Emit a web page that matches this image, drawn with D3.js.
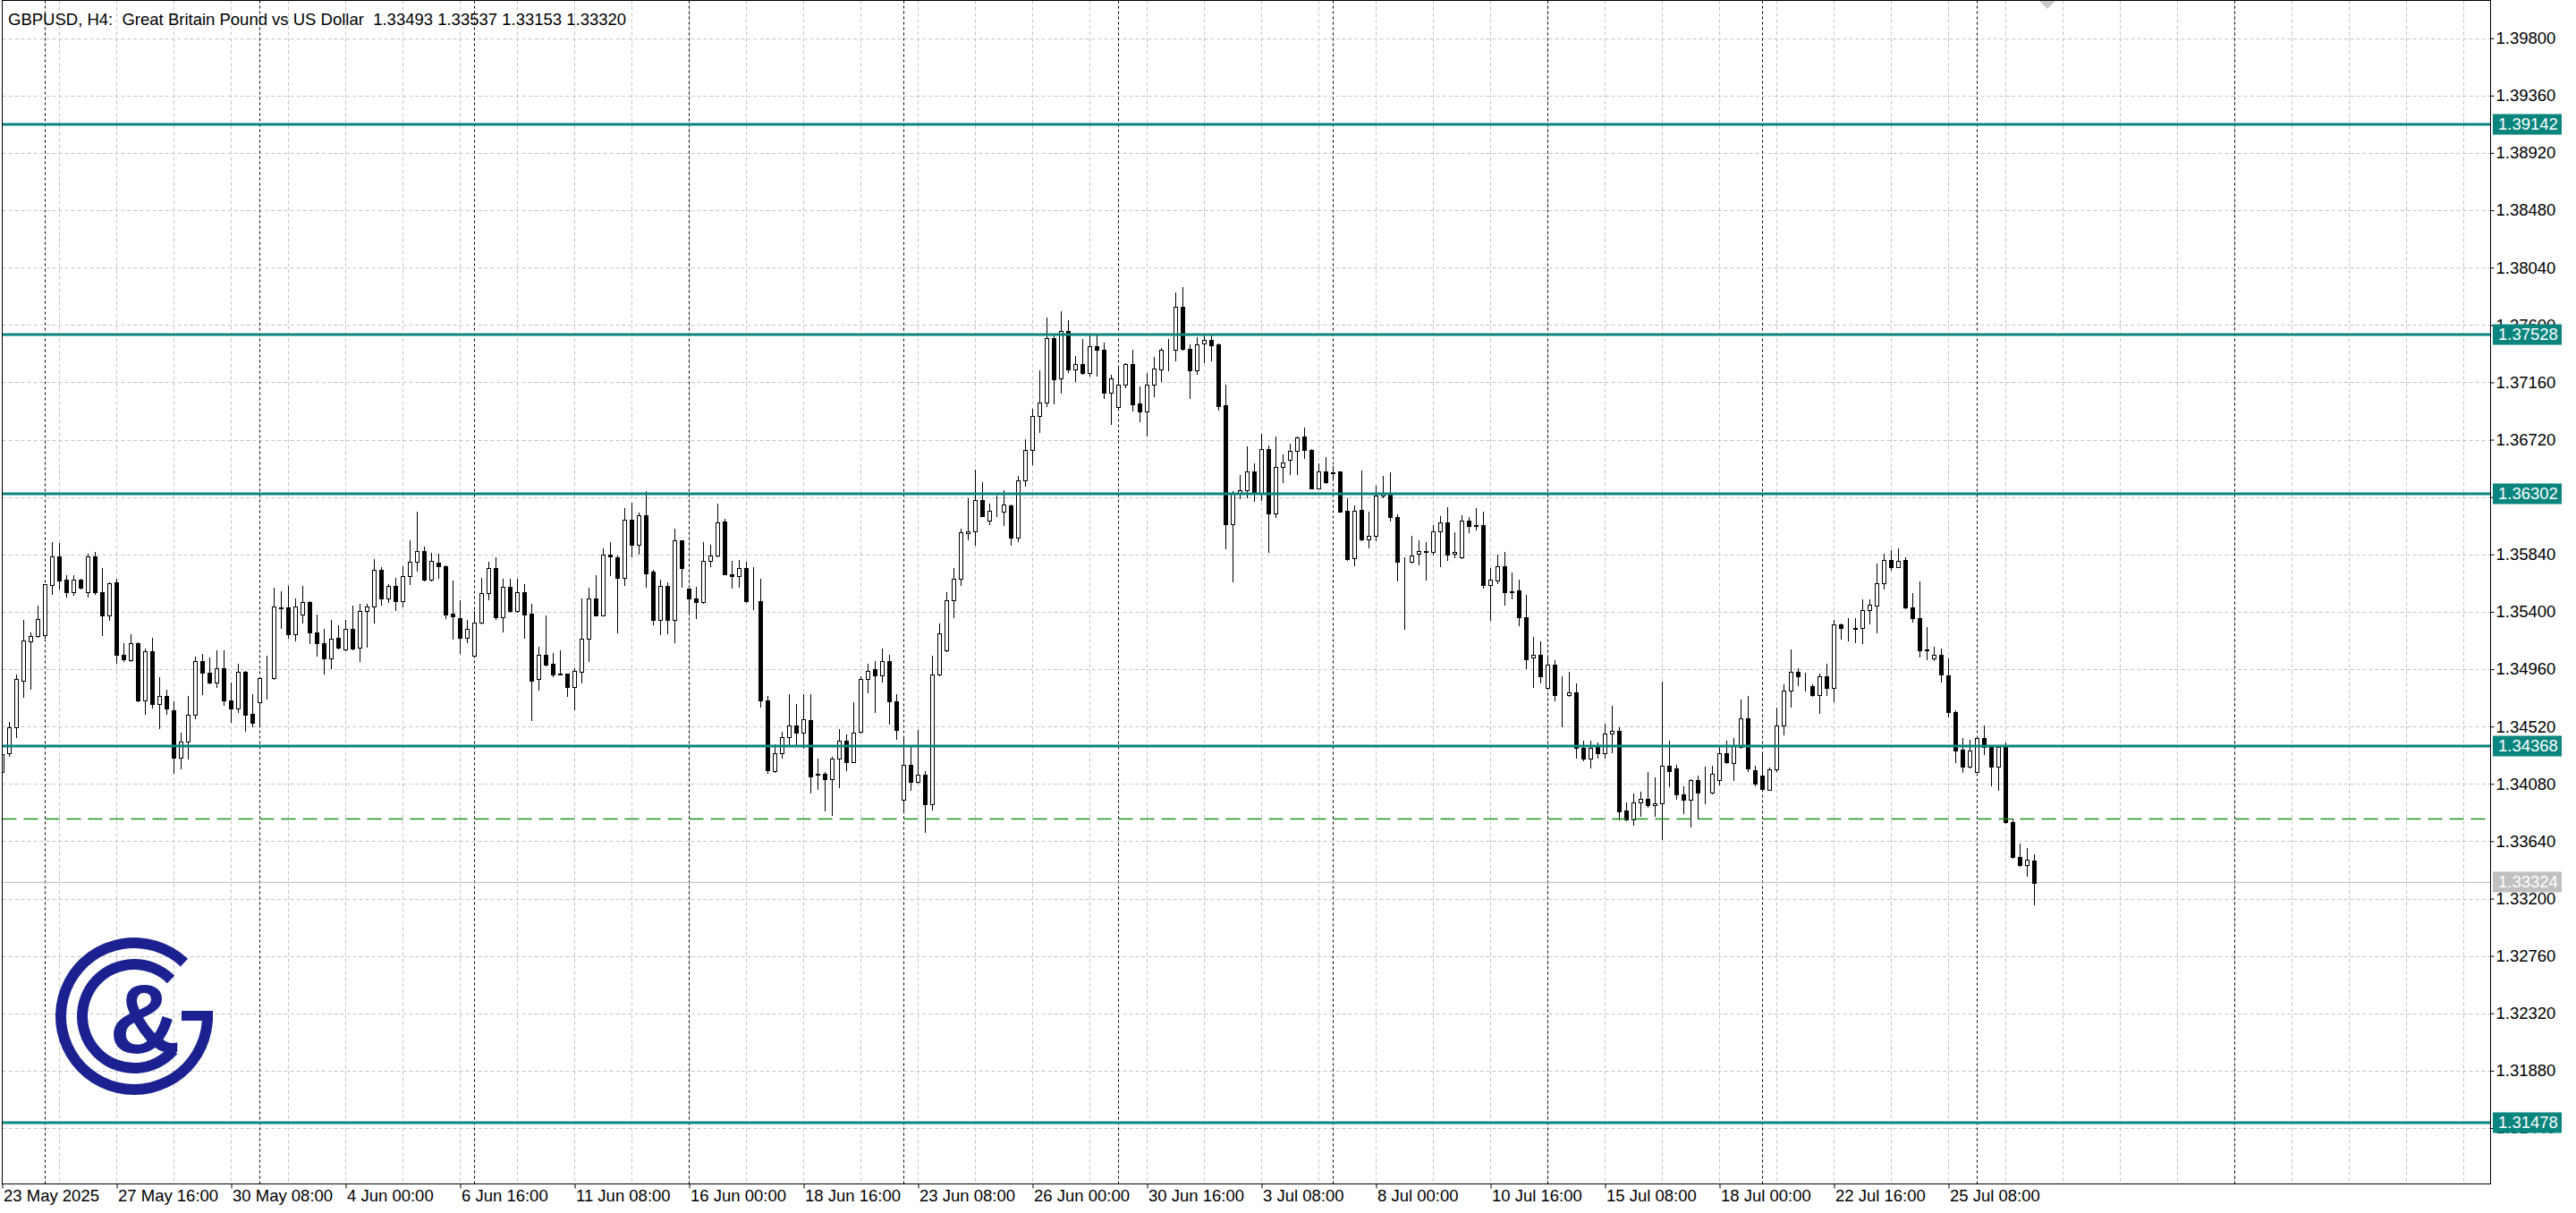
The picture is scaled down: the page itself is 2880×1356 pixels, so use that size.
<!DOCTYPE html>
<html><head><meta charset="utf-8">
<script src="https://cdn.jsdelivr.net/npm/d3@7"></script>
<style>html,body{margin:0;padding:0;background:#fff;} svg{display:block;} text{font-family:"Liberation Sans",Arial,sans-serif;}</style>
</head><body><svg id="c" width="2880" height="1356"></svg>
<script>
const title = "GBPUSD, H4:  Great Britain Pound vs US Dollar  1.33493 1.33537 1.33153 1.33320";
const open = [1.34170,1.34318,1.34517,1.34874,1.35176,1.35217,1.35222,1.35604,1.35823,1.35645,1.35553,1.35645,1.35553,1.35823,1.35553,1.35370,1.35626,1.35073,1.35027,1.35158,1.34723,1.35096,1.34696,1.34753,1.34645,1.34284,1.34403,1.34609,1.35020,1.34931,1.34856,1.34965,1.34718,1.34657,1.34940,1.34616,1.34703,1.34890,1.34890,1.35432,1.35432,1.35226,1.35377,1.35473,1.35240,1.35158,1.35043,1.35199,1.35112,1.35267,1.35126,1.35405,1.35439,1.35720,1.35501,1.35599,1.35480,1.35672,1.35782,1.35866,1.35645,1.35777,1.35747,1.35386,1.35354,1.35199,1.35061,1.35318,1.35546,1.35734,1.35359,1.35592,1.35404,1.35551,1.35386,1.34883,1.35073,1.35000,1.34924,1.34924,1.34826,1.34943,1.35194,1.35501,1.35375,1.35839,1.35816,1.35663,1.36104,1.35917,1.36139,1.35709,1.35340,1.35597,1.35340,1.35946,1.35576,1.35501,1.35473,1.35793,1.35832,1.36095,1.35690,1.35672,1.35734,1.35485,1.35480,1.34718,1.34181,1.34314,1.34437,1.34531,1.34471,1.34570,1.34158,1.34158,1.34115,1.34277,1.34409,1.34249,1.34479,1.34885,1.34961,1.34913,1.35025,1.34711,1.33961,1.34227,1.34095,1.34151,1.33924,1.34921,1.35103,1.35487,1.35650,1.36000,1.36014,1.36257,1.36098,1.36173,1.36168,1.36215,1.35969,1.36406,1.36641,1.36902,1.37008,1.37498,1.37190,1.37551,1.37257,1.37302,1.37232,1.37434,1.37411,1.37078,1.36972,1.37140,1.37299,1.37000,1.36938,1.37145,1.37260,1.37411,1.37411,1.37736,1.37414,1.37252,1.37456,1.37484,1.37448,1.36986,1.36075,1.36313,1.36331,1.36480,1.36308,1.36647,1.36153,1.36509,1.36567,1.36633,1.36743,1.36640,1.36349,1.36475,1.36468,1.36475,1.36175,1.35810,1.36182,1.35954,1.35981,1.36290,1.36315,1.36125,1.35787,1.35787,1.35844,1.35862,1.35858,1.36015,1.36084,1.35844,1.35816,1.36098,1.36061,1.36063,1.35606,1.35638,1.35748,1.35560,1.35565,1.35359,1.35050,1.35069,1.34815,1.34993,1.34764,1.34760,1.34783,1.34357,1.34273,1.34364,1.34318,1.34467,1.34490,1.33877,1.33808,1.33936,1.33964,1.33918,1.33929,1.34220,1.34199,1.33998,1.33957,1.34112,1.34014,1.34014,1.34108,1.34318,1.34238,1.34364,1.34581,1.34188,1.34146,1.34037,1.34192,1.34528,1.34798,1.34942,1.34837,1.34832,1.34764,1.34906,1.34814,1.35301,1.35274,1.35274,1.35274,1.35416,1.35450,1.35617,1.35800,1.35740,1.35798,1.35434,1.35354,1.35114,1.35045,1.35073,1.34913,1.34631,1.34341,1.34210,1.34169,1.34432,1.34364,1.34210,1.34368,1.33785,1.33517,1.33456,1.33493];
const high = [1.34325,1.34558,1.34917,1.35336,1.35244,1.35450,1.35615,1.35935,1.35926,1.35679,1.35684,1.35652,1.35848,1.35862,1.35736,1.35626,1.35656,1.35158,1.35226,1.35169,1.35119,1.35199,1.34897,1.34803,1.34712,1.34472,1.34753,1.35055,1.35078,1.35050,1.35107,1.35107,1.34860,1.35004,1.34947,1.34769,1.34901,1.35066,1.35583,1.35560,1.35599,1.35503,1.35599,1.35480,1.35382,1.35267,1.35336,1.35297,1.35336,1.35450,1.35462,1.35462,1.35805,1.35741,1.35610,1.35661,1.35748,1.35947,1.36166,1.35901,1.35850,1.35844,1.35754,1.35640,1.35489,1.35336,1.35404,1.35661,1.35782,1.35816,1.35652,1.35656,1.35652,1.35610,1.35462,1.35135,1.35370,1.35084,1.35103,1.34929,1.34965,1.35503,1.35587,1.35679,1.35885,1.35935,1.35834,1.36193,1.36239,1.36164,1.36326,1.35720,1.35645,1.35629,1.36038,1.35949,1.35578,1.35592,1.35935,1.35912,1.36232,1.36113,1.35793,1.35798,1.35786,1.35741,1.35652,1.34753,1.34387,1.34478,1.34769,1.34695,1.34769,1.34769,1.34272,1.34170,1.34291,1.34501,1.34459,1.34703,1.34907,1.35003,1.35019,1.35117,1.35067,1.34767,1.34431,1.34367,1.34493,1.34179,1.35061,1.35313,1.35552,1.35734,1.36039,1.36271,1.36490,1.36392,1.36229,1.36291,1.36336,1.36224,1.36439,1.36725,1.36958,1.37252,1.37658,1.37532,1.37708,1.37635,1.37364,1.37495,1.37518,1.37526,1.37467,1.37215,1.37285,1.37308,1.37411,1.37126,1.37232,1.37358,1.37425,1.37495,1.37846,1.37890,1.37448,1.37509,1.37518,1.37532,1.37456,1.37140,1.36327,1.36450,1.36669,1.36537,1.36765,1.36679,1.36743,1.36605,1.36690,1.36747,1.36811,1.36647,1.36537,1.36587,1.36518,1.36480,1.36269,1.36217,1.36484,1.36166,1.36370,1.36441,1.36468,1.36148,1.35821,1.35981,1.35947,1.35935,1.36068,1.36137,1.36201,1.36011,1.36141,1.36130,1.36194,1.36166,1.35736,1.35839,1.35858,1.35702,1.35645,1.35530,1.35206,1.35176,1.35050,1.35027,1.34902,1.34940,1.34849,1.34414,1.34410,1.34398,1.34543,1.34680,1.34517,1.33936,1.34003,1.34017,1.34170,1.34128,1.34862,1.34409,1.34226,1.34060,1.34119,1.34146,1.34210,1.34220,1.34375,1.34409,1.34432,1.34730,1.34752,1.34220,1.34325,1.34204,1.34666,1.34844,1.35112,1.34970,1.34931,1.34844,1.34929,1.34999,1.35336,1.35313,1.35354,1.35352,1.35496,1.35496,1.35770,1.35846,1.35873,1.35885,1.35820,1.35546,1.35633,1.35283,1.35130,1.35118,1.35043,1.34643,1.34432,1.34421,1.34432,1.34528,1.34375,1.34371,1.34398,1.33815,1.33620,1.33586,1.33537];
const low = [1.34160,1.34295,1.34439,1.34746,1.34810,1.35210,1.35199,1.35537,1.35576,1.35519,1.35530,1.35576,1.35519,1.35537,1.35222,1.35341,1.35011,1.35023,1.35023,1.34714,1.34620,1.34668,1.34506,1.34616,1.34165,1.34197,1.34273,1.34586,1.34771,1.34851,1.34821,1.34689,1.34558,1.34634,1.34490,1.34524,1.34536,1.34737,1.34885,1.35279,1.35199,1.35183,1.35320,1.35160,1.35062,1.34924,1.34970,1.35119,1.35107,1.35114,1.35020,1.35130,1.35320,1.35457,1.35473,1.35416,1.35439,1.35610,1.35718,1.35640,1.35640,1.35663,1.35354,1.35192,1.35084,1.35164,1.35055,1.35313,1.35496,1.35347,1.35251,1.35400,1.35400,1.35203,1.34570,1.34805,1.34988,1.34908,1.34920,1.34757,1.34650,1.34856,1.35023,1.35370,1.35370,1.35679,1.35240,1.35606,1.35828,1.35848,1.35594,1.35306,1.35226,1.35237,1.35169,1.35592,1.35388,1.35354,1.35469,1.35747,1.35828,1.35686,1.35583,1.35594,1.35473,1.35423,1.34673,1.34163,1.34170,1.34279,1.34387,1.34387,1.34359,1.34016,1.34044,1.33879,1.33840,1.34053,1.34185,1.34246,1.34473,1.34781,1.34633,1.34862,1.34543,1.34423,1.33877,1.34036,1.34092,1.33714,1.33885,1.34913,1.35100,1.35361,1.35605,1.35958,1.35913,1.36131,1.36070,1.36131,1.36067,1.35916,1.35944,1.36369,1.36529,1.36776,1.36977,1.37000,1.37078,1.37238,1.37173,1.37224,1.37210,1.37210,1.37036,1.36837,1.36966,1.37120,1.36944,1.36860,1.36748,1.37050,1.37173,1.37252,1.37330,1.37411,1.37042,1.37224,1.37316,1.37330,1.36949,1.35888,1.35636,1.36274,1.36278,1.36251,1.36258,1.35862,1.36125,1.36395,1.36457,1.36457,1.36578,1.36345,1.36345,1.36388,1.36416,1.36166,1.35800,1.35759,1.35949,1.35896,1.35949,1.36281,1.36102,1.35638,1.35267,1.35777,1.35766,1.35649,1.35839,1.35748,1.35800,1.35816,1.35810,1.36011,1.36034,1.35583,1.35336,1.35617,1.35457,1.35501,1.35297,1.34970,1.34822,1.34856,1.34810,1.34723,1.34524,1.34753,1.34280,1.34257,1.34204,1.34280,1.34284,1.34325,1.33808,1.33799,1.33763,1.33834,1.33902,1.33833,1.33659,1.34060,1.33963,1.33854,1.33751,1.33815,1.33934,1.34005,1.34073,1.34238,1.34112,1.34359,1.34181,1.34066,1.34037,1.34032,1.34181,1.34462,1.34672,1.34839,1.34798,1.34752,1.34627,1.34764,1.34714,1.35194,1.35180,1.35164,1.35160,1.35308,1.35240,1.35580,1.35724,1.35740,1.35427,1.35324,1.35054,1.35038,1.35031,1.34867,1.34597,1.34245,1.34169,1.34204,1.34169,1.34306,1.34071,1.34037,1.33780,1.33513,1.33453,1.33373,1.33153];
const close = [1.34311,1.34517,1.34883,1.35180,1.35217,1.35343,1.35610,1.35823,1.35642,1.35553,1.35645,1.35583,1.35823,1.35553,1.35370,1.35617,1.35073,1.35034,1.35158,1.34723,1.35096,1.34696,1.34753,1.34657,1.34284,1.34403,1.34609,1.35020,1.34931,1.34856,1.34965,1.34718,1.34657,1.34940,1.34609,1.34547,1.34890,1.34892,1.35439,1.35430,1.35226,1.35439,1.35473,1.35240,1.35158,1.35043,1.35192,1.35123,1.35267,1.35119,1.35405,1.35439,1.35720,1.35501,1.35599,1.35480,1.35672,1.35782,1.35864,1.35645,1.35789,1.35747,1.35382,1.35363,1.35199,1.35267,1.35318,1.35542,1.35734,1.35359,1.35592,1.35404,1.35551,1.35382,1.34874,1.35073,1.34993,1.34920,1.34922,1.34826,1.34947,1.35194,1.35501,1.35375,1.35839,1.35823,1.35663,1.36104,1.35917,1.36139,1.35697,1.35340,1.35597,1.35340,1.35946,1.35736,1.35501,1.35473,1.35793,1.35832,1.36086,1.35690,1.35672,1.35734,1.35480,1.35483,1.34718,1.34188,1.34314,1.34437,1.34531,1.34471,1.34574,1.34135,1.34150,1.34117,1.34277,1.34414,1.34249,1.34470,1.34885,1.34949,1.34913,1.35025,1.34711,1.34493,1.34227,1.34095,1.34151,1.33924,1.34921,1.35235,1.35487,1.35650,1.36011,1.36014,1.36257,1.36137,1.36173,1.36175,1.36224,1.35969,1.36406,1.36641,1.36902,1.37008,1.37498,1.37182,1.37551,1.37257,1.37302,1.37232,1.37434,1.37411,1.37078,1.37187,1.37140,1.37299,1.36994,1.36938,1.37140,1.37266,1.37411,1.37413,1.37736,1.37414,1.37252,1.37448,1.37484,1.37442,1.36980,1.36075,1.36305,1.36331,1.36475,1.36308,1.36647,1.36153,1.36509,1.36548,1.36633,1.36736,1.36640,1.36349,1.36475,1.36393,1.36466,1.36171,1.35805,1.36175,1.35954,1.35981,1.36290,1.36315,1.36125,1.35782,1.35782,1.35835,1.35867,1.35864,1.36015,1.36084,1.35839,1.35858,1.36098,1.36057,1.36063,1.35604,1.35645,1.35748,1.35553,1.35553,1.35359,1.35039,1.35069,1.34906,1.34993,1.34760,1.34762,1.34783,1.34357,1.34273,1.34357,1.34318,1.34467,1.34485,1.33872,1.33808,1.33936,1.33964,1.33914,1.33929,1.34220,1.34181,1.33998,1.33957,1.34112,1.34014,1.34016,1.34158,1.34318,1.34245,1.34375,1.34581,1.34197,1.34085,1.34043,1.34192,1.34528,1.34798,1.34942,1.34906,1.34835,1.34764,1.34906,1.34814,1.35301,1.35274,1.35276,1.35272,1.35416,1.35457,1.35617,1.35800,1.35740,1.35793,1.35434,1.35354,1.35107,1.35102,1.35073,1.34917,1.34634,1.34334,1.34210,1.34334,1.34430,1.34364,1.34210,1.34364,1.33785,1.33517,1.33456,1.33499,1.33320];
const timeLabels = ["23 May 2025","27 May 16:00","30 May 08:00","4 Jun 00:00","6 Jun 16:00","11 Jun 08:00","16 Jun 00:00","18 Jun 16:00","23 Jun 08:00","26 Jun 00:00","30 Jun 16:00","3 Jul 08:00","8 Jul 00:00","10 Jul 16:00","15 Jul 08:00","18 Jul 00:00","22 Jul 16:00","25 Jul 08:00"];
const timeLabelBars = [0,16,32,48,64,80,96,112,128,144,160,176,192,208,224,240,256,272];
const weekStartBars = [6,36,66,96,126,156,186,216,246,276,312];
const gridBars = [0,8,16,24,32,40,48,56,64,72,80,88,96,104,112,120,128,136,144,152,160,168,176,184,192,200,208,216,224,232,240,248,256,264,272,280,288,296,304,312,320,328,336,344];
const yTicks = [1.39800,1.39360,1.38920,1.38480,1.38040,1.37600,1.37160,1.36720,1.36280,1.35840,1.35400,1.34960,1.34520,1.34080,1.33640,1.33200,1.32760,1.32320,1.31880,1.31440];
const levels = [1.39142,1.37528,1.36302,1.34368,1.31478];
const trendLevel = 1.33814;
const bidPrice = 1.33324;

const L = 2.5, R = 2784.5, T = 0.5, B = 1323.5;
const svg = d3.select('#c');
const x = d3.scaleLinear().domain([0, 347.75]).range([L, R]);
const y = d3.scaleLinear().domain([1.3144, 1.398]).range([1261, 42.7]);
const py = v => Math.round(y(v)) + 0.5;
const fmt = d3.format('.5f');
const FS = '18.5px';

svg.append('rect').attr('width', 2880).attr('height', 1356).attr('fill', '#fff');
svg.append('defs').append('clipPath').attr('id', 'plot').append('rect')
  .attr('x', L).attr('y', T).attr('width', R - L).attr('height', B - T);
const plot = svg.append('g').attr('clip-path', 'url(#plot)');

// grid
plot.append('g').selectAll('line').data(yTicks).join('line')
  .attr('x1', L).attr('x2', R).attr('y1', d => py(d)).attr('y2', d => py(d))
  .attr('stroke', '#c4c4c4').attr('stroke-width', 1).attr('stroke-dasharray', '4,3');
plot.append('g').selectAll('line').data(gridBars).join('line')
  .attr('x1', d => x(d)).attr('x2', d => x(d)).attr('y1', T).attr('y2', B)
  .attr('stroke', '#c4c4c4').attr('stroke-width', 1).attr('stroke-dasharray', '4,3');
// week separators
plot.append('g').selectAll('line').data(weekStartBars).join('line')
  .attr('x1', d => x(d)).attr('x2', d => x(d)).attr('y1', T).attr('y2', B)
  .attr('stroke', '#000').attr('stroke-width', 1).attr('stroke-dasharray', '3,3');

// bid line
plot.append('line').attr('x1', L).attr('x2', R).attr('y1', py(bidPrice)).attr('y2', py(bidPrice))
  .attr('stroke', '#c0c0c0').attr('stroke-width', 1);

// candles
const bars = d3.range(open.length).map(i => ({i, o: open[i], h: high[i], l: low[i], c: close[i]}));
const cg = plot.append('g');
cg.selectAll('line.w').data(bars).join('line').attr('class', 'w')
  .attr('x1', d => x(d.i)).attr('x2', d => x(d.i))
  .attr('y1', d => py(d.h) - 0.5).attr('y2', d => py(d.l) + 0.5)
  .attr('stroke', '#000').attr('stroke-width', 1);
cg.selectAll('rect.b').data(bars).join('rect').attr('class', 'b')
  .attr('x', d => x(d.i) - 2).attr('width', 4)
  .attr('y', d => py(Math.max(d.o, d.c)))
  .attr('height', d => Math.max(0, py(Math.min(d.o, d.c)) - py(Math.max(d.o, d.c))))
  .attr('fill', d => d.c >= d.o ? '#fff' : '#000')
  .attr('stroke', '#000').attr('stroke-width', 1);

// trend (green dashed)
plot.append('line').attr('x1', L).attr('x2', R).attr('y1', py(trendLevel)).attr('y2', py(trendLevel))
  .attr('stroke', '#1f8f1f').attr('stroke-width', 1.3).attr('stroke-dasharray', '16,8');

// levels
plot.append('g').selectAll('line').data(levels).join('line')
  .attr('x1', L).attr('x2', R).attr('y1', d => Math.round(y(d))).attr('y2', d => Math.round(y(d)))
  .attr('stroke', '#09857e').attr('stroke-width', 3);

// chart shift marker
svg.append('path').attr('d', 'M2280,1 L2298,1 L2289,10 Z').attr('fill', '#c8c8c8');

// y axis
const yAxis = d3.axisRight(y).tickValues(yTicks).tickFormat(fmt).tickSize(4).tickPadding(2);
const ya = svg.append('g').attr('transform', `translate(${R},0)`).call(yAxis);
ya.select('.domain').remove();
ya.selectAll('line').attr('stroke', '#000');
ya.selectAll('text').attr('fill', '#000').style('font-size', FS).style('font-family', '"Liberation Sans",Arial,sans-serif');

// x axis
const xAxis = d3.axisBottom(x).tickValues(timeLabelBars).tickFormat((d, k) => timeLabels[k]).tickSize(5);
const xa = svg.append('g').attr('transform', `translate(0,${B})`).call(xAxis);
xa.select('.domain').remove();
xa.selectAll('line').attr('stroke', '#000');
xa.selectAll('text').attr('fill', '#000').attr('x', 1).attr('y', 6).attr('dy', '0.72em')
  .style('text-anchor', 'start').style('font-size', FS).style('font-family', '"Liberation Sans",Arial,sans-serif');

// price labels
const lab = svg.append('g');
const boxes = levels.map(v => ({v, col: '#09857e'})).concat([{v: bidPrice, col: '#c0c0c0'}]);
lab.selectAll('rect').data(boxes).join('rect')
  .attr('x', 2787).attr('width', 77).attr('y', d => Math.round(y(d.v)) - 11.5).attr('height', 23)
  .attr('fill', d => d.col);
lab.selectAll('text').data(boxes).join('text')
  .attr('x', 2793).attr('y', d => Math.round(y(d.v))).attr('dy', '0.35em')
  .attr('fill', '#fff').style('font-size', FS).text(d => fmt(d.v));

// logo
const navy = '#1b2190';
const lg = svg.append('g').attr('transform', 'translate(150,1136)');
const deg = Math.PI / 180;
lg.append('path').attr('d', d3.arc().innerRadius(76).outerRadius(88).startAngle(88 * deg).endAngle(403 * deg)()).attr('fill', navy);
lg.append('rect').attr('x', 53).attr('y', -6).attr('width', 35).attr('height', 11).attr('fill', navy);
lg.append('path').attr('d', d3.arc().innerRadius(52).outerRadius(64).startAngle(131 * deg).endAngle(405 * deg)()).attr('fill', navy);
lg.append('text').attr('x', 12).attr('y', 41).attr('text-anchor', 'middle')
  .style('font-size', '110px').style('font-weight', 'bold').attr('fill', navy).text('&');

// title
svg.append('text').attr('x', 9).attr('y', 28).style('font-size', FS).style('white-space', 'pre')
  .attr('xml:space', 'preserve').attr('fill', '#000').text(title);

// frame
svg.append('rect').attr('x', L).attr('y', T).attr('width', R - L).attr('height', B - T)
  .attr('fill', 'none').attr('stroke', '#000').attr('stroke-width', 1);
</script></body></html>
